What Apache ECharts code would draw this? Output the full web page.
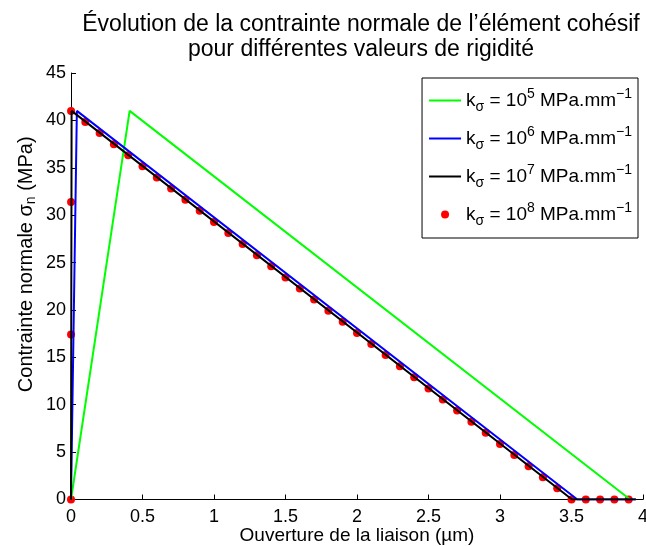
<!DOCTYPE html>
<html><head><meta charset="utf-8">
<script src="https://cdn.jsdelivr.net/npm/echarts@6/dist/echarts.min.js"></script>
<style>html,body{margin:0;padding:0;background:#fff}#c{width:646px;height:546px}</style>
</head><body><div id="c"></div>
<script>
var xTicks = [0, 0.5, 1, 1.5, 2, 2.5, 3, 3.5, 4];
var yTicks = [0, 5, 10, 15, 20, 25, 30, 35, 40, 45];
var seriesNames = ['1e5', '1e6', '1e7', '1e8'];
var exponents = ['5', '6', '7', '8'];
var green = [[0, 0], [0.41, 41], [3.91, 0]];
var blue = [[0, 0], [0.041, 41], [3.541, 0], [3.95, 0]];
var black = [[0, 0], [0.0041, 41], [3.5041, 0], [3.95, 0]];
var redX = [0, 0.000174, 0.000314, 0.00041, 0.1, 0.2, 0.3, 0.4, 0.5, 0.6, 0.7, 0.8, 0.9, 1.0,
  1.1, 1.2, 1.3, 1.4, 1.5, 1.6, 1.7, 1.8, 1.9, 2.0, 2.1, 2.2, 2.3, 2.4, 2.5, 2.6, 2.7, 2.8, 2.9, 3.0,
  3.1, 3.2, 3.3, 3.4, 3.5, 3.6, 3.7, 3.8, 3.9];
var redY = [0, 17.4, 31.4, 41, 39.83, 38.66, 37.49, 36.32, 35.15, 33.98, 32.81, 31.63, 30.46, 29.29,
  28.12, 26.95, 25.78, 24.61, 23.43, 22.26, 21.09, 19.92, 18.75, 17.58, 16.41, 15.24, 14.06, 12.89, 11.72, 10.55, 9.38, 8.21, 7.03, 5.86,
  4.69, 3.52, 2.35, 1.18, 0.0, 0, 0, 0, 0];
var red = redX.map(function (x, i) { return [x, redY[i]]; });

var font = 'Liberation Sans, Arial, sans-serif';
var lineIcon = 'path://M0,0 L32,0 L32,2 L0,2 Z';
var chart = echarts.init(document.getElementById('c'));
var legendRich = {
  n: { fontSize: 19, fontFamily: font, color: '#000' },
  sub: { fontSize: 14, fontFamily: font, color: '#000', padding: [13, 0, 0, 0] },
  sup: { fontSize: 14, fontFamily: font, color: '#000', padding: [0, 0, 13, 0] }
};
chart.setOption({
  animation: false,
  backgroundColor: '#fff',
  title: {
    text: 'Évolution de la contrainte normale de l’élément cohésif\npour différentes valeurs de rigidité',
    left: 356, top: 7, textAlign: 'center',
    textStyle: { fontFamily: font, fontSize: 23, fontWeight: 'normal', color: '#000', lineHeight: 25 }
  },
  grid: { left: 71, right: 3, top: 73, bottom: 46.5, containLabel: false, outerBoundsMode: 'none' },
  legend: {
    orient: 'vertical', right: 8, top: 78,
    backgroundColor: '#fff', borderColor: '#000', borderWidth: 1,
    padding: [9, 6, 10, 7], itemGap: 11, itemWidth: 32, itemHeight: 8,
    data: [
      { name: seriesNames[0], icon: lineIcon },
      { name: seriesNames[1], icon: lineIcon },
      { name: seriesNames[2], icon: lineIcon },
      { name: seriesNames[3], icon: 'circle' }
    ],
    formatter: function (name) {
      var e = exponents[seriesNames.indexOf(name)];
      return '{n|k}{sub|σ}{n| = 10}{sup|' + e + '}{n| MPa.mm}{sup|−1}';
    },
    textStyle: { rich: legendRich, fontSize: 19, color: '#000' }
  },
  xAxis: {
    type: 'value', min: 0, max: 4, interval: 0.5,
    name: 'Ouverture de la liaison (µm)', nameLocation: 'middle', nameGap: 26, nameMoveOverlap: false,
    nameTextStyle: { fontFamily: font, fontSize: 19, color: '#000', lineHeight: 20 },
    axisLine: { lineStyle: { color: '#000', width: 1 } },
    axisTick: { inside: true, length: 5, lineStyle: { color: '#000' } },
    axisLabel: { fontFamily: font, fontSize: 18, color: '#000', margin: 9,
      formatter: function (v) { return xTicks.indexOf(v) >= 0 ? String(v) : ''; } },
    splitLine: { show: false }
  },
  yAxis: {
    type: 'value', min: 0, max: 45, interval: 5,
    name: '{n|Contrainte normale σ}{s|n}{n| (MPa)}', nameLocation: 'middle', nameGap: 33, nameMoveOverlap: false,
    nameTextStyle: { padding: [0, 0, 0, 44], rich: {
      n: { fontFamily: font, fontSize: 20, color: '#000' },
      s: { fontFamily: font, fontSize: 14, color: '#000', padding: [10, 0, 0, 0] }
    } },
    axisLine: { show: true, lineStyle: { color: '#000', width: 1 } },
    axisTick: { show: true, inside: true, length: 5, lineStyle: { color: '#000' } },
    axisLabel: { fontFamily: font, fontSize: 18, color: '#000', margin: 5,
      formatter: function (v) { return yTicks.indexOf(v) >= 0 ? String(v) : ''; } },
    splitLine: { show: false }
  },
  series: [
    { name: seriesNames[0], type: 'line', data: green, symbol: 'none', lineStyle: { color: '#00ff00', width: 2 }, itemStyle: { color: '#00ff00' } },
    { name: seriesNames[1], type: 'line', data: blue, symbol: 'none', lineStyle: { color: '#0000ff', width: 2 }, itemStyle: { color: '#0000ff' } },
    { name: seriesNames[2], type: 'line', data: black, symbol: 'none', lineStyle: { color: '#000', width: 2 }, itemStyle: { color: '#000' } },
    { name: seriesNames[3], type: 'scatter', data: red, symbol: 'circle', symbolSize: 8, itemStyle: { color: '#ff0000', opacity: 1 } }
  ]
});
</script></body></html>
